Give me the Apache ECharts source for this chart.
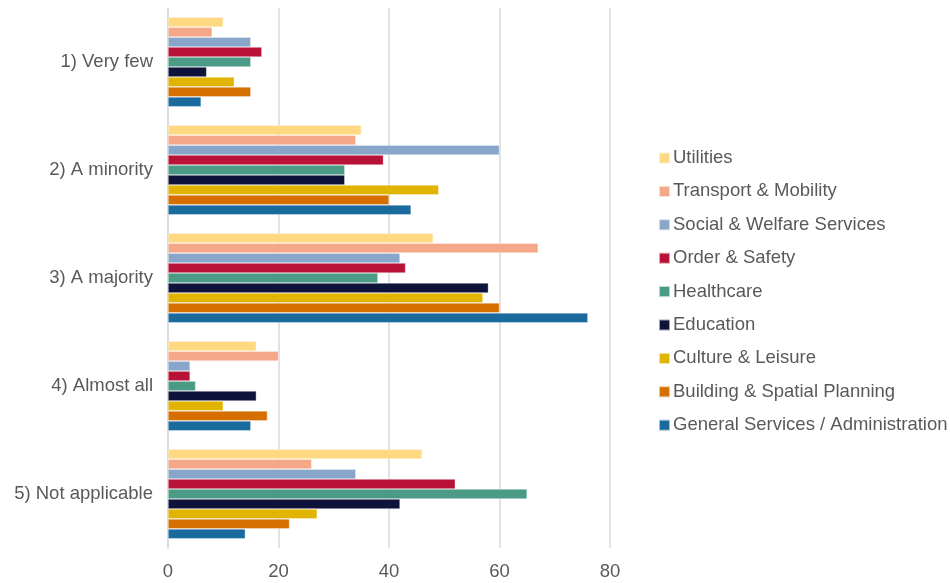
<!DOCTYPE html>
<html>
<head>
<meta charset="utf-8">
<script src="https://cdn.jsdelivr.net/npm/echarts@6/dist/echarts.min.js"></script>
<style>
  html, body { margin: 0; padding: 0; background: #fff; }
  #chart { width: 950px; height: 583px; }
</style>
</head>
<body>
<div id="chart"></div>
<script>
const categories = ['1) Very few', '2) A minority', '3) A majority', '4) Almost all', '5) Not applicable']
const seriesNames = [
  'Utilities',
  'Transport & Mobility',
  'Social & Welfare Services',
  'Order & Safety',
  'Healthcare',
  'Education',
  'Culture & Leisure',
  'Building & Spatial Planning',
  'General Services / Administration'
]
const colors = ['#FFD882', '#F4A888', '#88A6CA', '#B81236', '#4A9A86', '#0E133A', '#E0B400', '#D46F00', '#1B6A9E']

// values per category, in the order of the categories
const utilities = [10, 35, 48, 16, 46]
const transport = [8, 34, 67, 20, 26]
const social = [15, 60, 42, 4, 34]
const orderSafety = [17, 39, 43, 4, 52]
const healthcare = [15, 32, 38, 5, 65]
const education = [7, 32, 58, 16, 42]
const culture = [12, 49, 57, 10, 27]
const building = [15, 40, 60, 18, 22]
const general = [6, 44, 76, 15, 14]

const xTicks = [0, 20, 40, 60, 80]

const seriesData = [utilities, transport, social, orderSafety, healthcare, education, culture, building, general]

const chart = echarts.init(document.getElementById('chart'))

const option = {
  animation: false,
  color: colors,
  textStyle: { fontFamily: 'Liberation Sans, Arial, sans-serif' },
  grid: {
    left: 168,
    right: 340,
    top: 8,
    bottom: 35,
    containLabel: false
  },
  xAxis: {
    type: 'value',
    min: xTicks[0],
    max: xTicks[xTicks.length - 1],
    interval: 20,
    axisLine: { show: false },
    axisTick: { show: false },
    splitLine: { lineStyle: { color: '#D9D9D9', width: 1.5 } },
    axisLabel: { color: '#595959', fontSize: 18.5, margin: 14 }
  },
  yAxis: {
    type: 'category',
    data: categories,
    inverse: true,
    axisLine: { show: true, lineStyle: { color: '#D9D9D9', width: 1.5 } },
    axisTick: { show: false },
    axisLabel: { color: '#595959', fontSize: 18.5, margin: 15 }
  },
  legend: {
    orient: 'vertical',
    left: 653,
    top: 143,
    itemWidth: 11,
    itemHeight: 11,
    itemGap: 13.4,
    icon: 'rect',
    textStyle: { color: '#595959', fontSize: 18.5, lineHeight: 20, padding: [0, 0, 0, -2] },
    data: seriesNames
  },
  series: seriesNames.map((name, i) => ({
    name: name,
    type: 'bar',
    data: seriesData[i],
    barGap: '0%',
    barCategoryGap: '17%',
    itemStyle: { borderColor: 'rgba(255,255,255,0.6)', borderWidth: 0.6 }
  }))
}

chart.setOption(option)
</script>
</body>
</html>
